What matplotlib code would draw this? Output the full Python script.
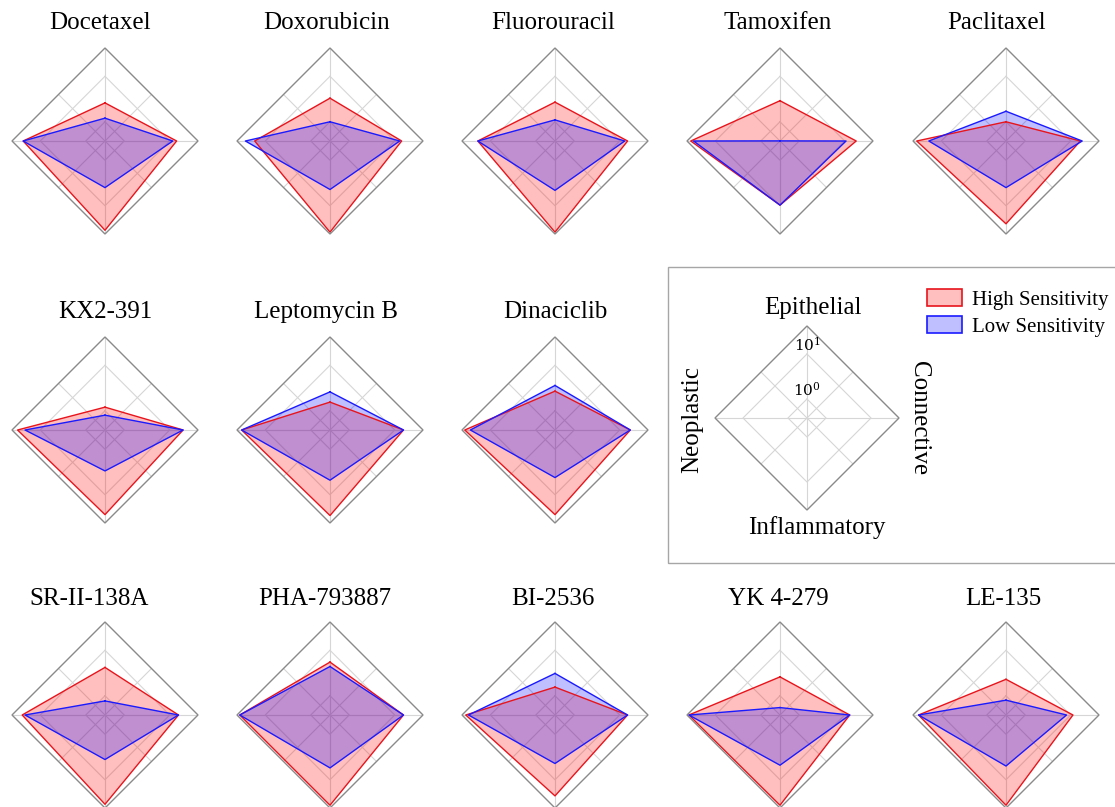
import numpy as np
import matplotlib
matplotlib.use("Agg")
import matplotlib.pyplot as plt
from matplotlib.patches import RegularPolygon, Rectangle, Patch
from matplotlib.path import Path
from matplotlib.projections import register_projection
from matplotlib.projections.polar import PolarAxes
from matplotlib.spines import Spine
from matplotlib.transforms import Affine2D
from matplotlib.ticker import NullLocator

# ---------------------------------------------------------------- data
cell_types = ["Epithelial", "Connective", "Inflammatory", "Neoplastic"]

drugs = ["Docetaxel", "Doxorubicin", "Fluorouracil", "Tamoxifen", "Paclitaxel",
         "KX2-391", "Leptomycin B", "Dinaciclib",
         "SR-II-138A", "PHA-793887", "BI-2536", "YK 4-279", "LE-135"]

# values per drug, ordered as cell_types
high_sensitivity = [
    [2.6, 14.2, 34.7, 23.8],
    [3.3, 14.2, 38.1, 17.1],
    [2.7, 14.9, 38.1, 18.8],
    [2.9, 17.9, 9.7, 34.7],
    [1.0, 16.3, 25.0, 34.7],
    [1.2, 19.7, 27.4, 31.6],
    [1.55, 15.6, 28.7, 33.1],
    [2.7, 17.1, 27.4, 36.4],
    [4.2, 15.6, 34.7, 25.0],
    [5.5, 15.6, 36.4, 36.4],
    [1.55, 14.9, 22.7, 34.7],
    [2.6, 12.9, 36.4, 38.1],
    [2.3, 11.2, 36.4, 31.6],
]
low_sensitivity = [
    [1.2, 11.7, 4.0, 23.8],
    [1.0, 12.9, 4.4, 27.4],
    [1.1, 12.9, 4.6, 18.8],
    [0.38, 10.7, 9.7, 30.1],
    [1.7, 17.9, 4.0, 18.8],
    [0.8, 19.7, 3.0, 21.7],
    [2.6, 15.6, 4.8, 33.1],
    [3.6, 17.1, 4.2, 27.4],
    [0.77, 15.6, 3.6, 21.7],
    [4.4, 15.6, 5.5, 36.4],
    [3.1, 14.9, 4.4, 30.1],
    [0.55, 12.9, 4.8, 38.1],
    [0.8, 8.1, 5.0, 31.6],
]
radial_ticks = [1, 10]
radial_tick_labels = ["$10^0$", "$10^1$"]
legend_labels = ["High Sensitivity", "Low Sensitivity"]

R_MIN, R_MAX = 10 ** -0.423, 10 ** 1.622

# ---------------------------------------------------------------- style
plt.rcParams["font.family"] = ["Liberation Serif", "DejaVu Serif"]
plt.rcParams["mathtext.fontset"] = "dejavuserif"

HIGH_FACE = (1.0, 0.0, 0.0, 0.25)
LOW_FACE = (0.0, 0.0, 1.0, 0.25)
HIGH_EDGE = "#e8141c"
LOW_EDGE = "#1a1aff"
GRID_COLOR = "#d6d6d6"
FRAME_COLOR = "#8a8a8a"


# ---------------------------------------------------------------- radar axes
def radar_factory(num_vars):
    theta = np.linspace(0, 2 * np.pi, num_vars, endpoint=False)

    class RadarTransform(PolarAxes.PolarTransform):
        def transform_path_non_affine(self, path):
            # grid lines carry many interpolation steps: draw them as polygons
            if path._interpolation_steps > 1:
                path = path.interpolated(num_vars)
            return Path(self.transform(path.vertices), path.codes)

    class RadarAxes(PolarAxes):
        name = "radar"
        PolarTransform = RadarTransform

        def __init__(self, *args, **kwargs):
            super().__init__(*args, **kwargs)
            self.set_theta_zero_location("N")
            self.set_theta_direction(-1)

        def fill(self, *args, closed=True, **kwargs):
            return super().fill(closed=closed, *args, **kwargs)

        def plot(self, *args, **kwargs):
            lines = super().plot(*args, **kwargs)
            for line in lines:
                x, y = line.get_data()
                if x[0] != x[-1]:
                    line.set_data(np.append(x, x[0]), np.append(y, y[0]))
            return lines

        def _gen_axes_patch(self):
            return RegularPolygon((0.5, 0.5), num_vars, radius=0.5,
                                  edgecolor="k")

        def _gen_axes_spines(self):
            spine = Spine(axes=self, spine_type="circle",
                          path=Path.unit_regular_polygon(num_vars))
            spine.set_transform(Affine2D().scale(0.5).translate(0.5, 0.5)
                                + self.transAxes)
            return {"polar": spine}

    register_projection(RadarAxes)
    return theta


theta = radar_factory(len(cell_types))

W, H = 1115, 807
fig = plt.figure(figsize=(W / 100, H / 100), dpi=100)
fig.patch.set_facecolor("white")


def radar_at(cx, cy, r):
    ax = fig.add_axes([(cx - r) / W, 1 - (cy + r) / H, 2 * r / W, 2 * r / H],
                      projection="radar")
    ax.set_rscale("log")
    ax.set_rlim(R_MIN, R_MAX)
    ax.set_yticks(radial_ticks)
    ax.yaxis.set_minor_locator(NullLocator())
    ax.set_yticklabels([])
    ax.set_xticks(np.deg2rad(np.arange(0, 360, 45)))
    ax.set_xticklabels([])
    ax.tick_params(length=0)
    ax.set_axisbelow(True)
    ax.grid(True, color=GRID_COLOR, lw=0.8)
    ax.spines["polar"].set_edgecolor(FRAME_COLOR)
    ax.spines["polar"].set_linewidth(1.0)
    return ax


# ---------------------------------------------------------------- layout
col_x = [105, 330, 555, 780, 1006]
row_y = [141, 430, 715]
title_base = [29, 318, 605]
slots = [(0, c) for c in range(5)] + [(1, c) for c in range(3)] + \
        [(2, c) for c in range(5)]
title_x = [100, 327, 553, 778, 997,
           105, 326, 555,
           89, 325, 553, 778, 1003]
RADIUS = 93

for i, name in enumerate(drugs):
    row, col = slots[i]
    ax = radar_at(col_x[col], row_y[row], RADIUS)
    ax.fill(theta, high_sensitivity[i], facecolor=HIGH_FACE, edgecolor="none")
    ax.plot(theta, high_sensitivity[i], color=HIGH_EDGE, lw=1.0)
    ax.fill(theta, low_sensitivity[i], facecolor=LOW_FACE, edgecolor="none")
    ax.plot(theta, low_sensitivity[i], color=LOW_EDGE, lw=1.0)
    fig.text(title_x[i] / W, 1 - title_base[row] / H, name, fontsize=18,
             ha="center", va="baseline")

# ---------------------------------------------------------------- key panel
fig.add_artist(Rectangle((668 / W, 1 - 563 / H), (1125 - 668) / W,
                         (563 - 267) / H, transform=fig.transFigure,
                         fill=False, edgecolor="#a6a6a6", lw=1.0))

kax = radar_at(807, 418, 92)
for tick, lab in zip(radial_ticks, radial_tick_labels):
    kax.text(0, tick, lab, ha="center", va="bottom", fontsize=11)

fig.text(813 / W, 1 - 308 / H, cell_types[0], fontsize=18,
         ha="center", va="center")
fig.text(919 / W, 1 - 418 / H, cell_types[1], fontsize=18,
         ha="center", va="center", rotation=270)
fig.text(817 / W, 1 - 528 / H, cell_types[2], fontsize=18,
         ha="center", va="center")
fig.text(692 / W, 1 - 420 / H, cell_types[3], fontsize=18,
         ha="center", va="center", rotation=90)

handles = [Patch(facecolor=HIGH_FACE, edgecolor=HIGH_EDGE, lw=1.2),
           Patch(facecolor=LOW_FACE, edgecolor=LOW_EDGE, lw=1.2)]
fig.legend(handles, legend_labels, loc="upper left",
           bbox_to_anchor=(927 / W, 1 - 289 / H), frameon=False,
           fontsize=15, borderpad=0, borderaxespad=0,
           handlelength=1.7, handleheight=0.9, handletextpad=0.45,
           labelspacing=0.3)

fig.savefig("out.png", dpi=100, facecolor="white")
